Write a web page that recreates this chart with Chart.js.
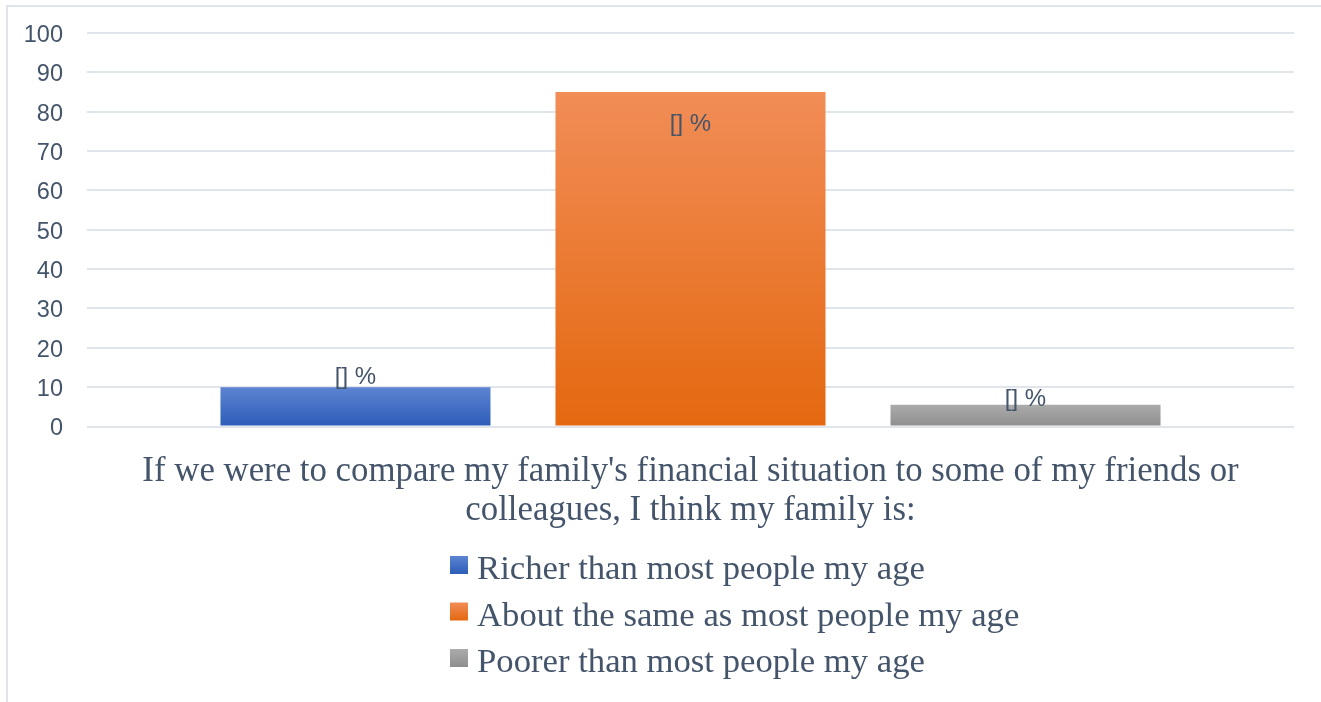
<!DOCTYPE html>
<html>
<head>
<meta charset="utf-8">
<title>Family financial situation</title>
<script src="https://cdn.jsdelivr.net/npm/chart.js@4"></script>
<style>
    html, body { margin: 0; padding: 0; background: #ffffff; }
    #wrap { position: relative; width: 1321px; height: 702px; }
</style>
</head>
<body>
<div id="wrap"><canvas id="familyChart" width="1321" height="702"></canvas></div>
<script>
// Survey answers (percent of respondents)
const categories = [[
    "If we were to compare my family's financial situation to some of my friends or",
    "colleagues, I think my family is:"
]];
const seriesNames = [
    'Richer than most people my age',
    'About the same as most people my age',
    'Poorer than most people my age'
];
const richerValues = [10];
const sameValues = [85];
const poorerValues = [5.5];
const valueLabels = ['[] %', '[] %', '[] %'];
const yMin = 0;
const yMax = 100;
const yStep = 10;

const textColor = '#44546a';
const gridColor = '#e0e4eb';

// vertical gradient per bar, light at the top, darker at the base
function barGradient(context) {
    const chart = context.chart;
    if (!chart.chartArea || context.parsed == null) return null;
    const shade = context.dataset.shade;
    const y = chart.scales.y;
    const top = y.getPixelForValue(context.parsed.y);
    const bottom = y.getPixelForValue(0);
    const g = chart.ctx.createLinearGradient(0, top, 0, bottom);
    g.addColorStop(0, shade[0]);
    g.addColorStop(1, shade[1]);
    return g;
}

// white page with the light frame round the chart
const chartFrame = {
    id: 'chartFrame',
    beforeDraw(chart) {
        const ctx = chart.ctx;
        ctx.save();
        ctx.fillStyle = '#ffffff';
        ctx.fillRect(0, 0, chart.width, chart.height);
        ctx.strokeStyle = '#dfe3ea';
        ctx.lineWidth = 2;
        ctx.strokeRect(7, 6, chart.width + 20, chart.height + 20);
        ctx.restore();
    }
};

// "[] %" text on each bar
const barLabels = {
    id: 'barLabels',
    afterDatasetsDraw(chart) {
        const ctx = chart.ctx;
        ctx.save();
        ctx.font = '24px "Liberation Sans"';
        ctx.fillStyle = textColor;
        ctx.textAlign = 'center';
        ctx.textBaseline = 'middle';
        chart.data.datasets.forEach((ds, i) => {
            chart.getDatasetMeta(i).data.forEach((bar) => {
                ctx.fillText(valueLabels[i], bar.x, bar.y + ds.labelShift);
            });
        });
        ctx.restore();
    }
};

// one legend entry per line, left aligned
const stackedLegend = {
    id: 'stackedLegend',
    afterDraw(chart, args, opts) {
        const ctx = chart.ctx;
        ctx.save();
        ctx.font = '34.7px "Liberation Serif"';
        ctx.textAlign = 'left';
        ctx.textBaseline = 'alphabetic';
        chart.data.datasets.forEach((ds, i) => {
            const cy = opts.top + i * opts.rowGap;
            const g = ctx.createLinearGradient(0, cy - 9, 0, cy + 9);
            g.addColorStop(0, ds.shade[0]);
            g.addColorStop(1, ds.shade[1]);
            ctx.fillStyle = g;
            ctx.fillRect(opts.left, cy - 9, 18, 18);
            ctx.fillStyle = textColor;
            ctx.fillText(ds.label, opts.left + 27, cy + 14);
        });
        ctx.restore();
    }
};

document.addEventListener('DOMContentLoaded', function() {
    const ctx = document.getElementById('familyChart').getContext('2d');

    new Chart(ctx, {
        type: 'bar',
        data: {
            labels: categories,
            datasets: [{
                label: seriesNames[0],
                data: richerValues,
                shade: ['#5d84d2', '#2c5db8'],
                labelShift: -10,
                backgroundColor: barGradient
            }, {
                label: seriesNames[1],
                data: sameValues,
                shade: ['#f18d57', '#e4680f'],
                labelShift: 32.5,
                backgroundColor: barGradient
            }, {
                label: seriesNames[2],
                data: poorerValues,
                shade: ['#ababab', '#8e8e8e'],
                labelShift: -5,
                backgroundColor: barGradient
            }]
        },
        options: {
            responsive: false,
            animation: false,
            categoryPercentage: 0.8327,
            barPercentage: 0.806,
            layout: {
                padding: { top: 33, right: 27, bottom: 0, left: 0 }
            },
            plugins: {
                legend: { display: false },
                tooltip: { enabled: false },
                stackedLegend: { left: 450, top: 565, rowGap: 46.5 }
            },
            scales: {
                x: {
                    grid: { display: false },
                    border: { display: false },
                    ticks: {
                        color: textColor,
                        padding: 17.5,
                        font: { family: 'Liberation Serif', size: 34.8, lineHeight: 1.135 }
                    },
                    afterFit(scale) { scale.height = 275.5; }
                },
                y: {
                    min: yMin,
                    max: yMax,
                    ticks: {
                        stepSize: yStep,
                        color: textColor,
                        padding: 24,
                        labelOffset: 2.5,
                        font: { family: 'Liberation Sans', size: 23.5 }
                    },
                    grid: { color: gridColor, lineWidth: 2, drawTicks: false },
                    border: { display: false },
                    afterFit(scale) {
                        scale.width = 87;
                        // top label overflow is already covered by the layout padding
                        scale.paddingTop = 0;
                    }
                }
            }
        },
        plugins: [chartFrame, barLabels, stackedLegend]
    });
});
</script>
</body>
</html>
